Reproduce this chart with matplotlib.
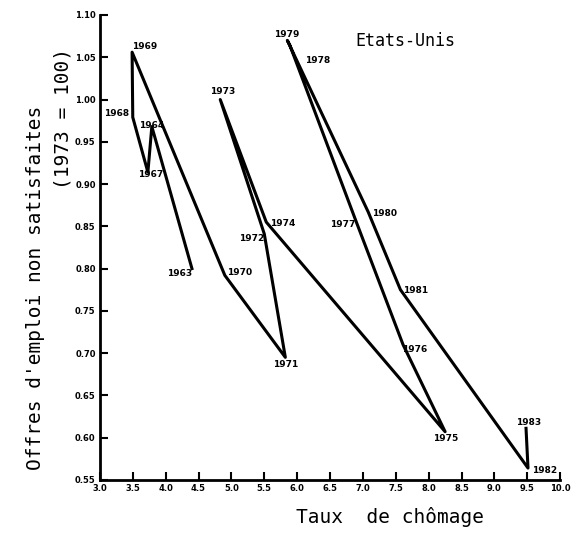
import matplotlib
matplotlib.use("Agg")
import matplotlib.pyplot as plt

# Beveridge curve, United States
years = [1963, 1964, 1967, 1968, 1969, 1970, 1971, 1972, 1973, 1974,
         1975, 1976, 1977, 1978, 1979, 1980, 1981, 1982, 1983]
unemployment = [4.40, 3.79, 3.73, 3.50, 3.49, 4.90, 5.82, 5.50, 4.83, 5.53,
                8.25, 7.61, 6.90, 5.89, 5.85, 7.08, 7.57, 9.51, 9.48]
vacancies = [0.800, 0.968, 0.914, 0.979, 1.056, 0.792, 0.695, 0.841, 1.000, 0.855,
             0.607, 0.710, 0.855, 1.064, 1.070, 0.867, 0.775, 0.564, 0.611]

x_ticks = [3.0, 3.5, 4.0, 4.5, 5.0, 5.5, 6.0, 6.5, 7.0, 7.5, 8.0, 8.5, 9.0, 9.5, 10.0]
y_ticks = [0.55, 0.60, 0.65, 0.70, 0.75, 0.80, 0.85, 0.90, 0.95, 1.00, 1.05, 1.10]

# where each year label sits relative to its point (pixels)
label_offsets = {1963: (-12, -5), 1964: (0, 1), 1967: (3, -2), 1968: (-16, 4),
                 1969: (13, 6), 1970: (15, 3), 1971: (0, -7), 1972: (-13, -5),
                 1973: (2, 8), 1974: (16, -1), 1975: (1, -7), 1976: (12, -5),
                 1977: (-14, -2), 1978: (28, -15), 1979: (-1, 6), 1980: (16, -2),
                 1981: (15, -1), 1982: (17, -2), 1983: (3, 6)}

fig = plt.figure(figsize=(5.74, 5.35), dpi=100)
ax = fig.add_axes([0.174, 0.103, 0.802, 0.869])

ax.plot(unemployment, vacancies, color="black", linewidth=2.2)

for yr, ux, vy in zip(years, unemployment, vacancies):
    dx, dy = label_offsets[yr]
    ax.annotate(str(yr), (ux, vy), xytext=(dx, dy), textcoords="offset pixels",
                ha="center", va="center", fontsize=6.5, fontweight="bold",
                annotation_clip=False)

ax.set_xlim(3.0, 10.0)
ax.set_ylim(0.55, 1.10)
ax.set_xticks(x_ticks)
ax.set_yticks(y_ticks)
ax.set_xticklabels(["%.1f" % t for t in x_ticks], fontsize=6, fontweight="bold")
ax.set_yticklabels(["%.2f" % t for t in y_ticks], fontsize=6, fontweight="bold")
ax.tick_params(direction="in", length=6, width=1.5, pad=3)
ax.spines["top"].set_visible(False)
ax.spines["right"].set_visible(False)
ax.spines["left"].set_linewidth(2)
ax.spines["bottom"].set_linewidth(2)

ax.text(0.555, 0.945, "Etats-Unis", transform=ax.transAxes, fontsize=12,
        family="DejaVu Sans Mono", va="center")

fig.text(0.061, 0.462, "Offres d'emploi non satisfaites",
         rotation=90, ha="center", va="center", fontsize=14,
         family="DejaVu Sans Mono")
fig.text(0.110, 0.779, "(1973 = 100)",
         rotation=90, ha="center", va="center", fontsize=14,
         family="DejaVu Sans Mono")
fig.text(0.68, 0.034, "Taux  de chômage", ha="center", va="center",
         fontsize=14, family="DejaVu Sans Mono")

fig.savefig("out.png", dpi=100)
